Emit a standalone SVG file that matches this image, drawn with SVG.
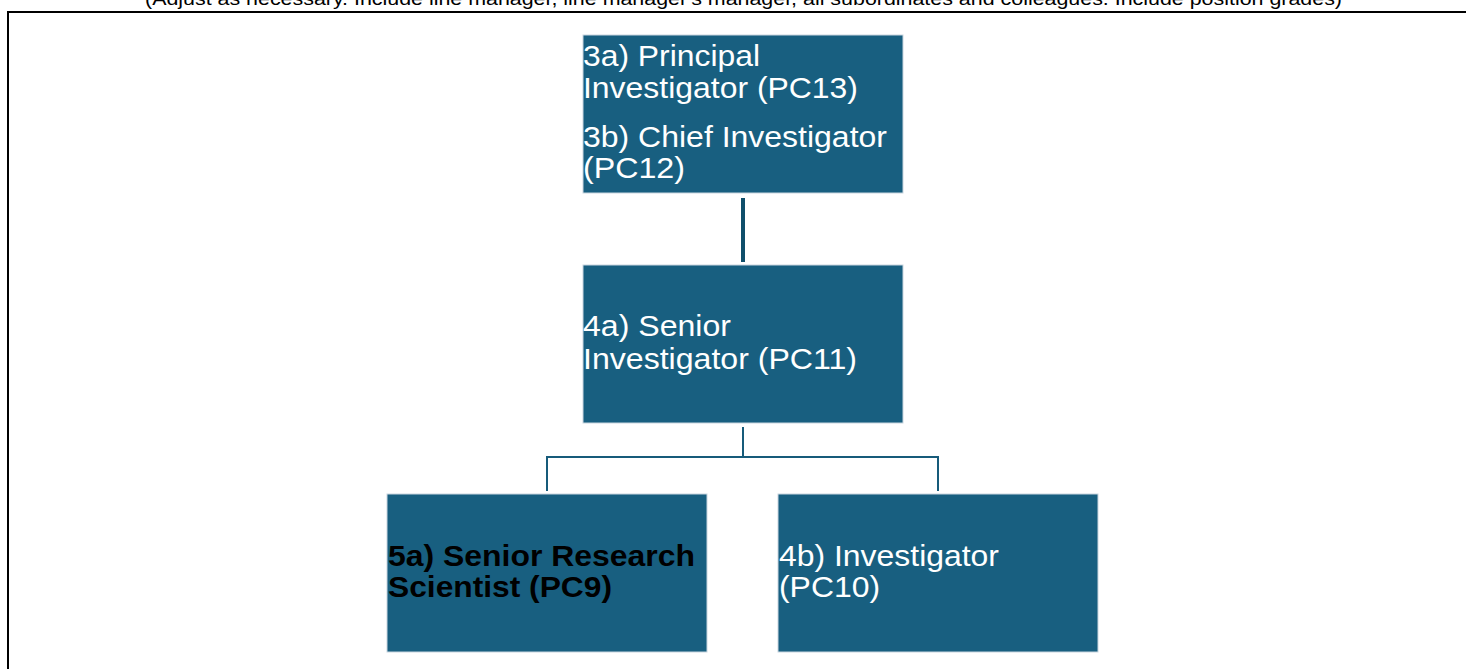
<svg xmlns="http://www.w3.org/2000/svg" width="1466" height="669" viewBox="0 0 1466 669">
<style>
.box{fill:#185f80;stroke:#c9d6df;stroke-width:1}
.t{font-family:"Liberation Sans",Arial,sans-serif;font-size:29px;fill:#ffffff}
.b{font-family:"Liberation Sans",Arial,sans-serif;font-size:29px;font-weight:bold;fill:#000000}
.c{fill:none;stroke:#175b7a;stroke-width:2}
</style>
<rect width="1466" height="669" fill="#ffffff"/>
<text x="145" y="5" font-family="'Liberation Sans',Arial,sans-serif" font-size="18" fill="#000" textLength="1197" lengthAdjust="spacingAndGlyphs">(Adjust as necessary. Include line manager, line manager's manager, all subordinates and colleagues. Include position grades)</text>
<path d="M8 669 V12 H1466" fill="none" stroke="#000" stroke-width="2"/>
<g id="connectors">
<line x1="743" y1="198" x2="743" y2="262" stroke="#0f4f6b" stroke-width="4"/>
<path class="c" d="M743 427 V457 M547 457 H939 M547 456 V491 M938 456 V491"/>
</g>
<g id="node-3">
<rect class="box" x="583" y="35" width="320" height="158"/>
<text class="t" x="583" y="66" textLength="177" lengthAdjust="spacingAndGlyphs">3a) Principal</text>
<text class="t" x="583" y="98" textLength="275" lengthAdjust="spacingAndGlyphs">Investigator (PC13)</text>
<text class="t" x="583" y="147" textLength="304" lengthAdjust="spacingAndGlyphs">3b) Chief Investigator</text>
<text class="t" x="583" y="178" textLength="102" lengthAdjust="spacingAndGlyphs">(PC12)</text>
</g>
<g id="node-4a">
<rect class="box" x="583" y="265" width="320" height="158"/>
<text class="t" x="583" y="336" textLength="148" lengthAdjust="spacingAndGlyphs">4a) Senior</text>
<text class="t" x="583" y="369" textLength="274" lengthAdjust="spacingAndGlyphs">Investigator (PC11)</text>
</g>
<g id="node-5a">
<rect class="box" x="387" y="494" width="320" height="158"/>
<text class="b" x="388" y="566" textLength="307" lengthAdjust="spacingAndGlyphs">5a) Senior Research</text>
<text class="b" x="388" y="597" textLength="224" lengthAdjust="spacingAndGlyphs">Scientist (PC9)</text>
</g>
<g id="node-4b">
<rect class="box" x="778" y="494" width="320" height="158"/>
<text class="t" x="779" y="566" textLength="220" lengthAdjust="spacingAndGlyphs">4b) Investigator</text>
<text class="t" x="779" y="597" textLength="101" lengthAdjust="spacingAndGlyphs">(PC10)</text>
</g>
</svg>
